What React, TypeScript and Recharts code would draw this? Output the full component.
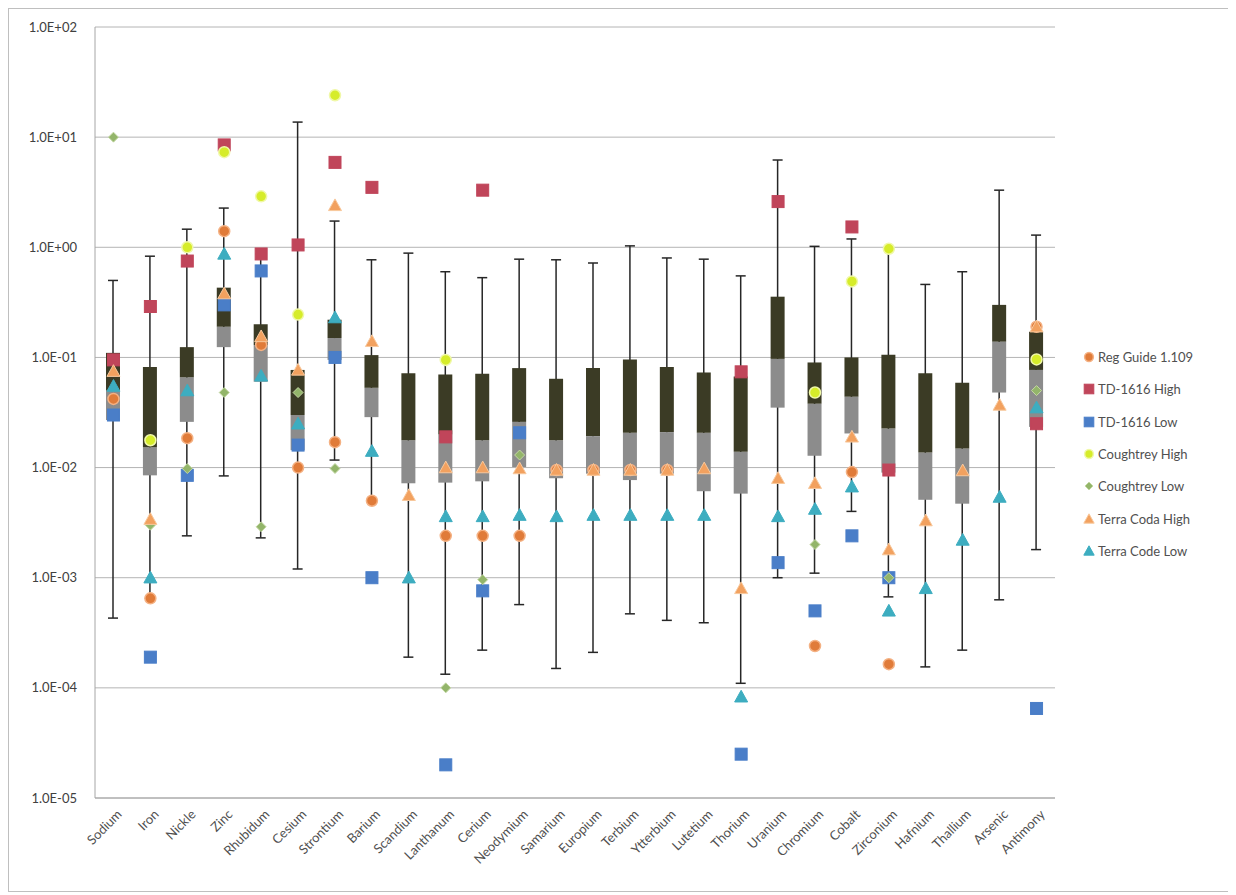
import React from "react";
import { ComposedChart, Bar, Scatter, XAxis, YAxis, CartesianGrid, Legend } from "recharts";

const elements = [
  "Sodium", "Iron", "Nickle", "Zinc", "Rhubidum", "Cesium", "Strontium", "Barium", "Scandium",
  "Lanthanum", "Cerium", "Neodymium", "Samarium", "Europium", "Terbium", "Ytterbium", "Lutetium",
  "Thorium", "Uranium", "Chromium", "Cobalt", "Zirconium", "Hafnium", "Thallium", "Arsenic", "Antimony",
];

// box plot stats
const whiskerHigh = [0.5, 0.83, 1.46, 2.27, 0.87, 13.7, 1.73, 0.77, 0.885, 0.6, 0.53, 0.78, 0.77, 0.72, 1.03, 0.8, 0.78, 0.55, 6.2, 1.02, 1.19, 0.95, 0.46, 0.6, 3.3, 1.29];
const boxHigh = [0.11, 0.082, 0.124, 0.43, 0.2, 0.077, 0.22, 0.105, 0.072, 0.07, 0.071, 0.08, 0.064, 0.08, 0.096, 0.082, 0.073, 0.067, 0.356, 0.09, 0.1, 0.106, 0.072, 0.059, 0.3, 0.171];
const boxMedian = [0.05, 0.0153, 0.066, 0.19, 0.13, 0.03, 0.15, 0.053, 0.0177, 0.02, 0.0177, 0.026, 0.0177, 0.0193, 0.0207, 0.021, 0.0207, 0.0139, 0.097, 0.038, 0.044, 0.0226, 0.0137, 0.0149, 0.139, 0.077];
const boxLow = [0.027, 0.0085, 0.026, 0.124, 0.06, 0.0144, 0.095, 0.0287, 0.0072, 0.0073, 0.0075, 0.0101, 0.008, 0.0088, 0.0077, 0.0088, 0.0061, 0.0058, 0.035, 0.0128, 0.0204, 0.009, 0.0051, 0.0047, 0.048, 0.0234];
const whiskerLow = [4.3e-4, 6.5e-4, 2.4e-3, 8.4e-3, 2.3e-3, 1.2e-3, 0.0117, 0.005, 1.9e-4, 1.33e-4, 2.2e-4, 5.7e-4, 1.5e-4, 2.1e-4, 4.7e-4, 4.1e-4, 3.9e-4, 1.1e-4, 1.0e-3, 1.1e-3, 4.0e-3, 6.7e-4, 1.55e-4, 2.2e-4, 6.3e-4, 1.8e-3];

// reference values
const regGuide = [0.042, 6.5e-4, 0.0185, 1.4, 0.13, 0.01, 0.017, 0.005, null, 0.0024, 0.0024, 0.0024, 0.0095, 0.0095, 0.0095, 0.0095, null, null, null, 2.4e-4, 0.0091, 1.64e-4, null, null, null, 0.19];
const tdHigh = [0.095, 0.29, 0.75, 8.5, 0.87, 1.05, 5.9, 3.5, null, 0.019, 3.3, null, null, null, null, null, null, 0.074, 2.6, null, 1.53, 0.0095, null, null, null, 0.025];
const tdLow = [0.03, 1.9e-4, 0.0085, 0.3, 0.61, 0.016, 0.1, 0.001, null, 2e-5, 7.6e-4, 0.0207, null, null, null, null, null, 2.5e-5, 0.00137, 5e-4, 0.0024, 0.001, null, null, null, 6.5e-5];
const coughtreyHigh = [null, 0.0177, 1.0, 7.3, 2.9, 0.245, 24, null, null, 0.095, null, null, null, null, null, null, null, null, null, 0.048, 0.49, 0.97, null, null, null, 0.096];
const coughtreyLow = [10, 0.003, 0.0098, 0.048, 0.0029, 0.048, 0.0098, null, null, 1e-4, 9.6e-4, 0.013, null, null, null, null, null, null, null, 0.002, null, 0.001, null, null, null, 0.05];
const terraHigh = [0.075, 0.0034, null, 0.38, 0.155, 0.077, 2.4, 0.14, 0.0056, 0.01, 0.01, 0.0098, 0.0095, 0.0095, 0.0095, 0.0095, 0.0098, 8e-4, 0.008, 0.0072, 0.019, 0.0018, 0.0033, 0.0094, 0.037, 0.19];
const terraLow = [0.055, 0.001, 0.05, 0.87, 0.068, 0.025, 0.23, 0.0141, 0.001, 0.0036, 0.0036, 0.0037, 0.0036, 0.0037, 0.0037, 0.0037, 0.0037, 8.3e-5, 0.0036, 0.0042, 0.0067, 5e-4, 8e-4, 0.0022, 0.0054, 0.035];

const yTicks = [1e-5, 1e-4, 1e-3, 1e-2, 1e-1, 1, 10, 100];

const data = elements.map((name, i) => ({
  name,
  wLo: whiskerLow[i],
  q1: boxLow[i],
  med: boxMedian[i],
  q3: boxHigh[i],
  wHi: whiskerHigh[i],
  rg: regGuide[i],
  tdh: tdHigh[i],
  tdl: tdLow[i],
  ch: coughtreyHigh[i],
  cl: coughtreyLow[i],
  th: terraHigh[i],
  tl: terraLow[i],
}));

const FONT = "Lato, 'Open Sans', sans-serif";

const series = [
  { key: "rg", label: "Reg Guide 1.109", kind: "circle", fill: "#e07b39", stroke: "#f4b183" },
  { key: "tdh", label: "TD-1616 High", kind: "square", fill: "#c0455a", stroke: "#c0455a" },
  { key: "tdl", label: "TD-1616 Low", kind: "square", fill: "#4a7ec8", stroke: "#4a7ec8" },
  { key: "ch", label: "Coughtrey High", kind: "circle", fill: "#d6ec2a", stroke: "#f0f8a8" },
  { key: "cl", label: "Coughtrey Low", kind: "diamond", fill: "#93b56a", stroke: "#c4d8a4" },
  { key: "th", label: "Terra Coda High", kind: "triangle", fill: "#f2a15f", stroke: "#f8c89c" },
  { key: "tl", label: "Terra Code Low", kind: "triangle", fill: "#3dadc0", stroke: "#3dadc0" },
];

function Mark({ kind, cx, cy, fill, stroke, s = 1 }: any) {
  if (kind === "square") {
    const h = 6 * s;
    return <rect x={cx - h} y={cy - h} width={2 * h} height={2 * h} fill={fill} stroke={stroke} strokeWidth={1} />;
  }
  if (kind === "circle") return <circle cx={cx} cy={cy} r={5.5 * s} fill={fill} stroke={stroke} strokeWidth={1.5} />;
  if (kind === "diamond") {
    const h = 5 * s;
    return <path d={`M${cx},${cy - h}L${cx + h},${cy}L${cx},${cy + h}L${cx - h},${cy}Z`} fill={fill} stroke={stroke} strokeWidth={1} />;
  }
  const h = 6.5 * s;
  return <path d={`M${cx},${cy - h}L${cx + h},${cy + h * 0.8}L${cx - h},${cy + h * 0.8}Z`} fill={fill} stroke={stroke} strokeWidth={1} />;
}

const makeShape = (sr: any) => (p: any) => {
  if (p.payload == null || p.payload[sr.key] == null || !Number.isFinite(p.cy)) return <g />;
  return <Mark kind={sr.kind} cx={p.cx} cy={p.cy} fill={sr.fill} stroke={sr.stroke} />;
};

const Whisker = (p: any) => {
  const cx = p.x + p.width / 2;
  return (
    <g stroke="#262626" strokeWidth={1.5}>
      <line x1={cx} x2={cx} y1={p.y} y2={p.y + p.height} />
      <line x1={cx - 5} x2={cx + 5} y1={p.y} y2={p.y} />
      <line x1={cx - 5} x2={cx + 5} y1={p.y + p.height} y2={p.y + p.height} />
    </g>
  );
};

const fmtTick = (v: number) => {
  const e = Math.round(Math.log10(v));
  return `1.0E${e < 0 ? "-" : "+"}${String(Math.abs(e)).padStart(2, "0")}`;
};

const ElementTick = ({ x, y, payload }: any) => (
  <g transform={`translate(${x + 6},${y + 6})`}>
    <text transform="rotate(-45)" textAnchor="end" dy="0.35em" fontSize={13} fill="#505050" fontFamily={FONT}>
      {payload.value}
    </text>
  </g>
);

const LegendBox = () => (
  <div style={{ paddingLeft: 28, fontFamily: FONT, fontSize: 13, color: "#505050" }}>
    {series.map((sr) => (
      <div key={sr.key} style={{ height: 32.3, display: "flex", alignItems: "center", whiteSpace: "nowrap" }}>
        <svg width={12} height={12} style={{ marginRight: 3 }}>
          <Mark kind={sr.kind} cx={6} cy={6} fill={sr.fill} stroke={sr.stroke} s={0.8} />
        </svg>
        {sr.label}
      </div>
    ))}
  </div>
);

export default function App() {
  return (
    <div style={{ width: 1224, height: 884, border: "1px solid #bfbfbf", boxSizing: "border-box", background: "#fff" }}>
      <ComposedChart
        width={1222}
        height={882}
        data={data}
        margin={{ top: 18, right: 6, bottom: 0, left: 0 }}
        barGap={-14}
      >
        <CartesianGrid vertical={false} stroke="#b4b4b4" />
        <XAxis
          dataKey="name"
          interval={0}
          tick={<ElementTick />}
          tickLine={false}
          height={93}
          axisLine={{ stroke: "#a6a6a6" }}
        />
        <YAxis
          scale="log"
          domain={[1e-5, 100]}
          ticks={yTicks}
          allowDataOverflow
          width={86}
          tickFormatter={fmtTick}
          tickLine={false}
          tickSize={8}
          tickMargin={10}
          axisLine={{ stroke: "#a6a6a6" }}
          tick={{ fontSize: 13, fill: "#404040", fontFamily: FONT }}
        />
        <Legend
          layout="vertical"
          align="right"
          verticalAlign="top"
          content={<LegendBox />}
          wrapperStyle={{ width: 170, top: 332 }}
        />
        <Bar dataKey={(d: any) => [d.wLo, d.wHi]} barSize={14} shape={Whisker} isAnimationActive={false} legendType="none" />
        <Bar dataKey={(d: any) => [d.q1, d.med]} barSize={14} fill="#8c8c8c" isAnimationActive={false} legendType="none" />
        <Bar dataKey={(d: any) => [d.med, d.q3]} barSize={14} fill="#3b3b25" isAnimationActive={false} legendType="none" />
        {series.map((sr) => (
          <Scatter key={sr.key} name={sr.label} dataKey={sr.key} shape={makeShape(sr)} isAnimationActive={false} />
        ))}
      </ComposedChart>
    </div>
  );
}
